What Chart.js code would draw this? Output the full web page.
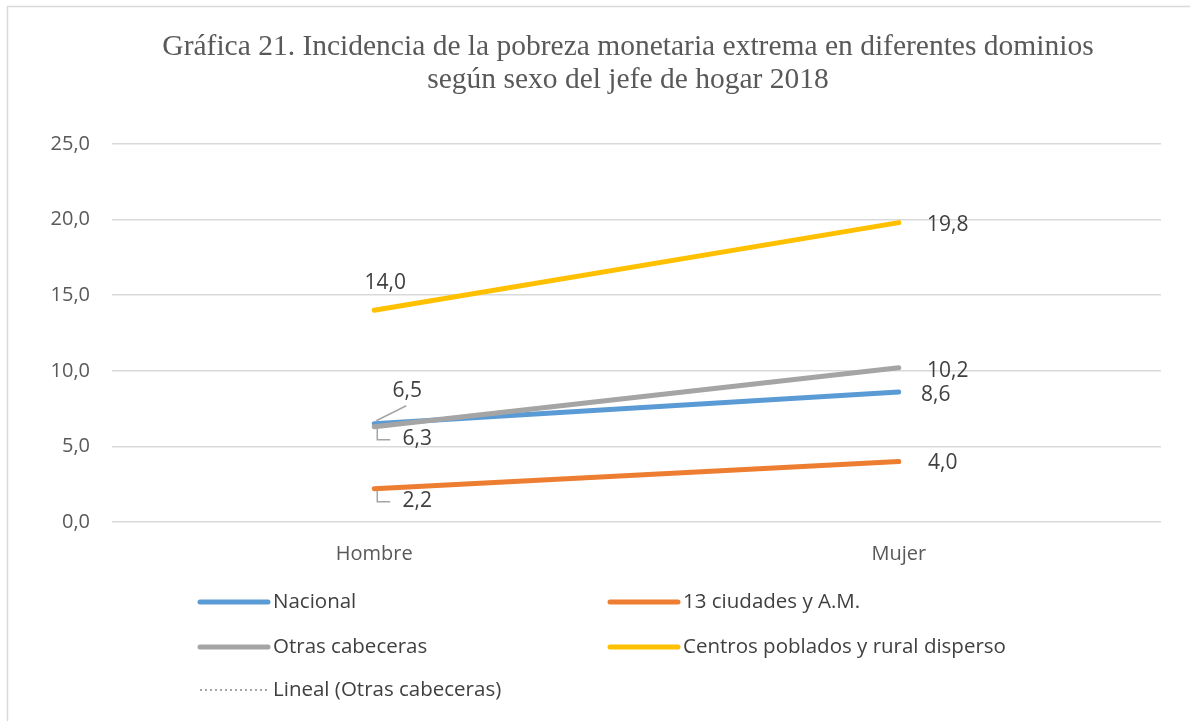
<!DOCTYPE html>
<html>
<head>
<meta charset="utf-8">
<script src="https://cdn.jsdelivr.net/npm/chart.js@4/dist/chart.umd.min.js"></script>
<style>
  html, body { margin: 0; padding: 0; background: #fff; }
  #wrap { width: 1190px; height: 721px; position: relative; }
</style>
</head>
<body>
<div id="wrap"><canvas id="chart" width="1190" height="721"></canvas></div>
<script>
// data
const categories = ["Hombre", "Mujer"];
const nacional = [6.5, 8.6];
const ciudades13 = [2.2, 4.0];
const otrasCabeceras = [6.3, 10.2];
const centrosPoblados = [14.0, 19.8];
const yTicks = [0, 5, 10, 15, 20, 25];
const titleLines = [
  "Gráfica 21. Incidencia de la pobreza monetaria extrema en diferentes dominios",
  "según sexo del jefe de hogar 2018"
];

// least squares trendline (Excel "Lineal")
function linearFit(values) {
  const n = values.length;
  const xs = values.map((_, i) => i + 1);
  const mx = xs.reduce((a, b) => a + b, 0) / n;
  const my = values.reduce((a, b) => a + b, 0) / n;
  let num = 0, den = 0;
  xs.forEach((x, i) => { num += (x - mx) * (values[i] - my); den += (x - mx) ** 2; });
  const slope = num / den;
  return xs.map(x => my + slope * (x - mx));
}
const lineal = linearFit(otrasCabeceras);

const fmt = v => v.toFixed(1).replace(".", ",");
const textColor = "#404040";
const font = "'Open Sans', sans-serif";

// label offsets from the point: [dx, dy, leader?]
const labelPos = {
  0: [[33, -33, "up"], [37, 3]],     // Nacional
  1: [[43, 12, "down"], [44, 1]],    // 13 ciudades
  2: [[43, 12, "down"], [49, 3]],    // Otras cabeceras
  3: [[11, -27], [49, 2]]            // Centros poblados
};

const chromePlugin = {
  id: "chrome",
  beforeDraw(chart) {
    const ctx = chart.ctx;
    ctx.save();
    ctx.strokeStyle = "#d9d9d9";
    ctx.lineWidth = 1.5;
    ctx.strokeRect(7.5, 6.5, 1300, 800);
    ctx.fillStyle = "#595959";
    ctx.font = "29.5px 'Liberation Serif', serif";
    ctx.textAlign = "center";
    ctx.textBaseline = "middle";
    ctx.fillText(titleLines[0], 628, 47);
    ctx.fillText(titleLines[1], 628, 80);
    ctx.restore();
  },
  afterDatasetsDraw(chart) {
    const ctx = chart.ctx;
    ctx.save();
    ctx.font = "21px " + font;
    ctx.fillStyle = textColor;
    ctx.textAlign = "center";
    ctx.textBaseline = "middle";
    [0, 1, 2, 3].forEach(di => {
      const meta = chart.getDatasetMeta(di);
      meta.data.forEach((pt, j) => {
        const p = labelPos[di][j];
        const v = chart.data.datasets[di].data[j];
        const tx = pt.x + p[0], ty = pt.y + p[1];
        ctx.fillText(fmt(v), tx, ty);
        if (p[2]) {
          ctx.strokeStyle = "#a5a5a5";
          ctx.lineWidth = 1.5;
          ctx.beginPath();
          if (p[2] === "up") {
            ctx.moveTo(pt.x + 2, pt.y - 3);
            ctx.lineTo(pt.x + 32, pt.y - 18);
          } else {
            ctx.moveTo(pt.x + 3, pt.y + 2);
            ctx.lineTo(pt.x + 3, pt.y + 13);
            ctx.lineTo(pt.x + 16, pt.y + 13);
          }
          ctx.stroke();
        }
      });
    });
    ctx.restore();
  },
  afterDraw(chart) {
    // legend, two columns like the original
    const ctx = chart.ctx;
    const items = [
      { ds: 0, x: 198, y: 602 },
      { ds: 1, x: 608, y: 602 },
      { ds: 2, x: 198, y: 647 },
      { ds: 3, x: 608, y: 647 },
      { ds: 4, x: 198, y: 690 }
    ];
    ctx.save();
    ctx.font = "20.5px " + font;
    ctx.textBaseline = "middle";
    ctx.textAlign = "left";
    items.forEach(it => {
      const d = chart.data.datasets[it.ds];
      ctx.strokeStyle = d.borderColor;
      ctx.lineCap = it.ds === 4 ? "butt" : "round";
      ctx.lineWidth = it.ds === 4 ? 2 : 5;
      ctx.setLineDash(it.ds === 4 ? [2, 3] : []);
      ctx.beginPath();
      ctx.moveTo(it.x + 2, it.y);
      ctx.lineTo(it.x + 70, it.y);
      ctx.stroke();
      ctx.setLineDash([]);
      ctx.fillStyle = textColor;
      ctx.fillText(d.label, it.x + 75, it.y);
    });
    ctx.restore();
  }
};

function series(label, data, color, order) {
  return {
    label, data, order,
    borderColor: color,
    backgroundColor: color,
    borderWidth: 5,
    borderCapStyle: "round",
    pointRadius: 0,
    tension: 0,
    fill: false
  };
}

const datasets = [
  series("Nacional", nacional, "#5B9BD5", 4),
  series("13 ciudades y A.M.", ciudades13, "#ED7D31", 3),
  series("Otras cabeceras", otrasCabeceras, "#A5A5A5", 1),
  series("Centros poblados y rural disperso", centrosPoblados, "#FFC000", 2),
  {
    label: "Lineal (Otras cabeceras)",
    data: lineal,
    order: 0,
    borderColor: "#A5A5A5",
    borderWidth: 1.5,
    borderDash: [2, 3],
    pointRadius: 0,
    fill: false
  }
];

new Chart(document.getElementById("chart"), {
  type: "line",
  data: { labels: categories, datasets },
  options: {
    responsive: false,
    animation: false,
    layout: { padding: { left: 0, right: 29, top: 144, bottom: 150 } },
    plugins: {
      legend: { display: false },
      title: { display: false },
      tooltip: { enabled: false }
    },
    scales: {
      x: {
        offset: true,
        grid: { display: false },
        border: { display: false },
        ticks: { color: "#595959", font: { family: font, size: 20 }, padding: 12 },
        afterFit: s => { s.height = 49; }
      },
      y: {
        min: 0,
        max: 25,
        afterBuildTicks: s => { s.ticks = yTicks.map(v => ({ value: v })); },
        grid: { color: "#d9d9d9", lineWidth: 1.5, drawTicks: false },
        border: { display: false },
        ticks: { color: "#595959", font: { family: font, size: 20 }, padding: 22, callback: v => fmt(v) },
        afterFit: s => { s.width = 112; }
      }
    }
  },
  plugins: [chromePlugin]
});
</script>
</body>
</html>
